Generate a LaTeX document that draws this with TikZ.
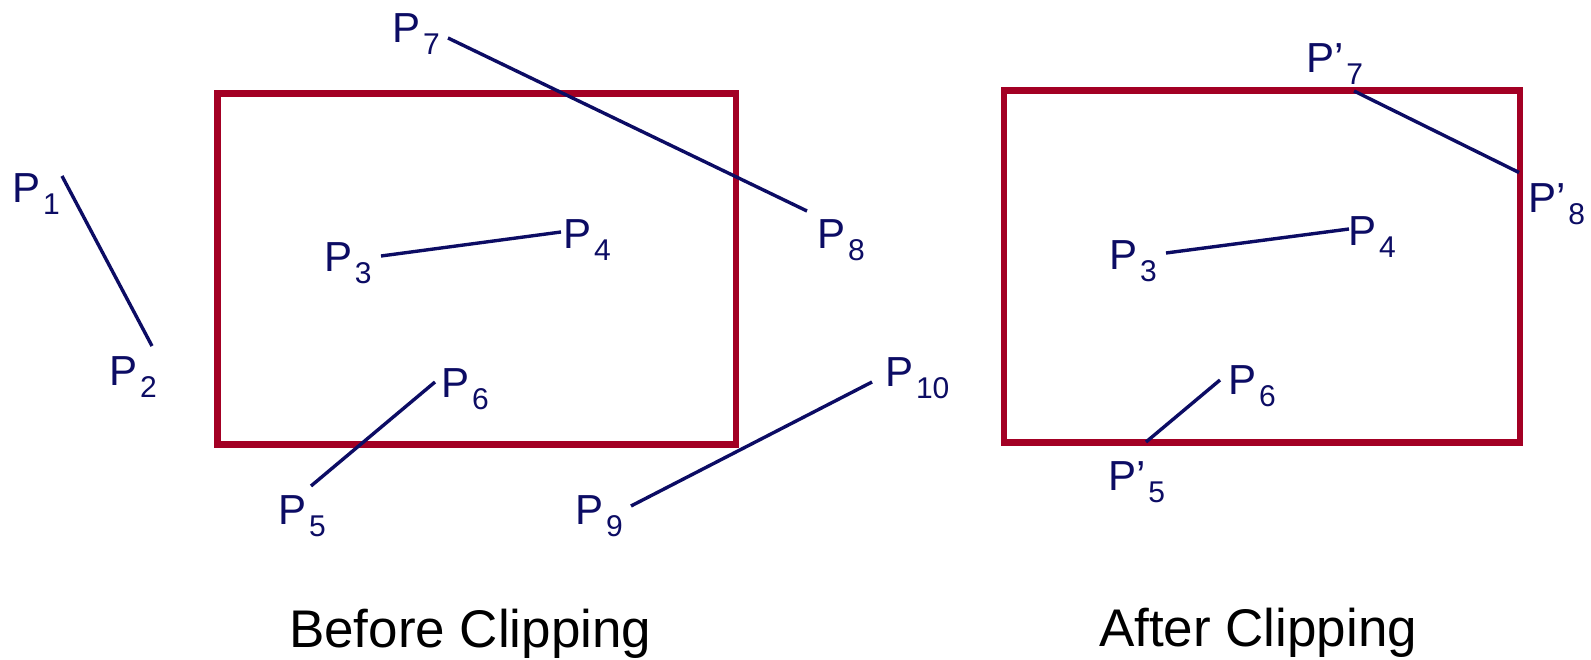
\documentclass[tikz,border=0pt]{standalone}
\usepackage{fontspec}
\setmainfont{Liberation Sans}
\newfontfamily\lblfont{Liberation Sans}
\definecolor{clipred}{RGB}{163,0,36}
\definecolor{navy}{RGB}{12,12,100}
\newcommand\psub[1]{\kern2.5pt\raisebox{-12pt}{\fontsize{30}{30}\selectfont #1}}
\tikzset{
  lbl/.style={anchor=base west, inner sep=0pt, outer sep=0pt, text=navy,
    font=\lblfont\fontsize{42}{48}\selectfont},
  captiontext/.style={anchor=base west, inner sep=0pt, outer sep=0pt, text=black,
    font=\fontsize{53}{60}\selectfont},
  window/.style={draw=clipred, line width=6.7pt, line join=miter},
  seg/.style={draw=navy, line width=3.4pt}
}
\begin{document}
\begin{tikzpicture}[x=1pt,y=-1pt]
\useasboundingbox (0,0) rectangle (1591,660);
\fill[white] (0,0) rectangle (1591,660);

% ---------- Before clipping ----------
\draw[window] (217.5,93.5) rectangle (736,444.5);

\coordinate (a1) at (62,176);   \coordinate (a2) at (152,346);
\coordinate (a3) at (381,256);  \coordinate (a4) at (561,232);
\coordinate (a5) at (311,486);  \coordinate (a6) at (435,382);
\coordinate (a7) at (448,38);   \coordinate (a8) at (807,211);
\coordinate (a9) at (631,506);  \coordinate (a10) at (872,382);
\draw[seg] (a1) -- (a2);
\draw[seg] (a3) -- (a4);
\draw[seg] (a5) -- (a6);
\draw[seg] (a7) -- (a8);
\draw[seg] (a9) -- (a10);

\node[lbl] (l1) at (12.5,203) {P\psub{1}};
\node[lbl] (l2) at (109.5,385) {P\psub{2}};
\node[lbl] (l3) at (324.4,272) {P\psub{3}};
\node[lbl] (l4) at (563.5,249) {P\psub{4}};
\node[lbl] (l5) at (278.5,524) {P\psub{5}};
\node[lbl] (l6) at (441.5,398) {P\psub{6}};
\node[lbl] (l7) at (392.5,43) {P\psub{7}};
\node[lbl] (l8) at (817.5,249) {P\psub{8}};
\node[lbl] (l9) at (575.5,524) {P\psub{9}};
\node[lbl] (l10) at (885.5,387) {P\psub{10}};

\node[captiontext] (before) at (289,647) {Before Clipping};

% ---------- After clipping ----------
\draw[window] (1004,90.7) rectangle (1520,442.5);

\coordinate (b7) at (1354,91);   \coordinate (b8) at (1519,172.5);
\coordinate (b3) at (1166,253);  \coordinate (b4) at (1349,229);
\coordinate (b5) at (1146,442);  \coordinate (b6) at (1220,380);
\draw[seg] (b7) -- (b8);
\draw[seg] (b3) -- (b4);
\draw[seg] (b5) -- (b6);

\node[lbl] (m7) at (1306.5,73) {P’\psub{7}};
\node[lbl] (m8) at (1528.5,213) {P’\psub{8}};
\node[lbl] (m3) at (1109.5,270) {P\psub{3}};
\node[lbl] (m4) at (1348.5,246) {P\psub{4}};
\node[lbl] (m6) at (1228.5,395) {P\psub{6}};
\node[lbl] (m5) at (1108.5,490) {P’\psub{5}};

\node[captiontext] (after) at (1099,646) {After Clipping};
\end{tikzpicture}
\end{document}
